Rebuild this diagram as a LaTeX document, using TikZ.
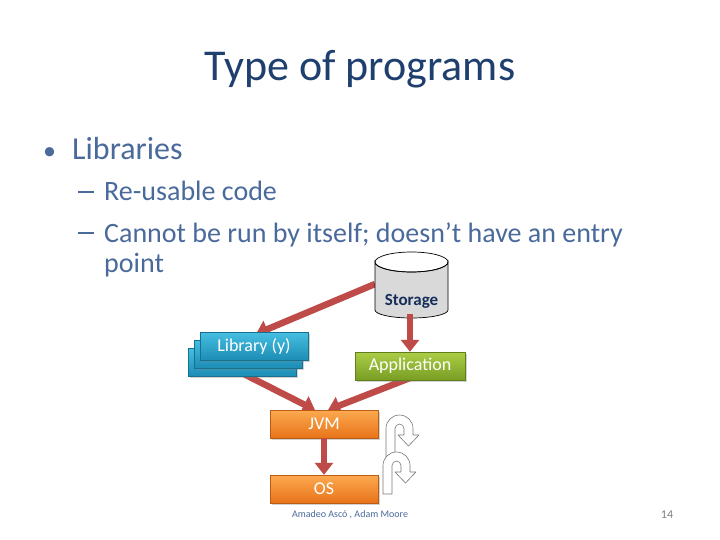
\documentclass[tikz,border=0pt]{standalone}
\usepackage{fontspec}
\setmainfont{Carlito}
\usetikzlibrary{arrows.meta,shadows}
\definecolor{titlecol}{RGB}{31,63,111}
\definecolor{bodycol}{RGB}{74,106,156}
\definecolor{arrowcol}{RGB}{190,75,72}
\definecolor{libtop}{RGB}{70,190,225}
\definecolor{libbot}{RGB}{28,140,180}
\definecolor{apptop}{RGB}{172,205,70}
\definecolor{appbot}{RGB}{120,158,35}
\definecolor{ortop}{RGB}{252,170,80}
\definecolor{orbot}{RGB}{232,115,25}
\definecolor{storefill}{RGB}{217,217,217}
\definecolor{storetext}{RGB}{23,45,90}
\definecolor{ucol}{RGB}{120,120,120}
\tikzset{
  bigarrow/.style={draw=arrowcol, line width=6.5pt, -{Triangle[width=18pt,length=12pt]}},
  boxbase/.style={minimum height=28pt, inner sep=0pt, text=white, font=\fontsize{18}{20}\selectfont,
    drop shadow={shadow xshift=1.5pt, shadow yshift=-1.5pt, opacity=0.35}},
  libbox/.style={boxbase, minimum width=108pt, top color=libtop, bottom color=libbot, draw=libbot!80!black, line width=0.4pt},
  appbox/.style={boxbase, minimum width=110pt, top color=apptop, bottom color=appbot, draw=appbot!80!black, line width=0.4pt},
  orbox/.style={boxbase, minimum width=108pt, top color=ortop, bottom color=orbot, draw=orbot!80!black, line width=0.4pt},
  uturn/.style={draw=ucol, fill=white, line width=0.6pt, line join=round},
  bodytext/.style={text=bodycol, anchor=base west, inner sep=0pt},
}
\newcommand{\subdash}{\makebox[26pt][l]{\rule[8.5pt]{16pt}{1.5pt}}}
\begin{document}
\begin{tikzpicture}[x=1pt,y=-1pt]
\useasboundingbox[fill=white] (0,0) rectangle (720,540);
% texts
\node[text=titlecol, font=\fontsize{44}{52}\selectfont, anchor=base] (title) at (360,81) {Type of programs};
\node[bodytext, font=\fontsize{32}{38}\selectfont] (b1) at (43,160) {\makebox[29pt][l]{\fontsize{26}{30}\selectfont•}Libraries};
\node[bodytext, font=\fontsize{28}{34}\selectfont] (b2) at (78,201) {\subdash Re-usable code};
\node[bodytext, font=\fontsize{28}{34}\selectfont] (b3) at (78,242) {\subdash Cannot be run by itself; doesn’t have an entry};
\node[bodytext, font=\fontsize{28}{34}\selectfont] (b4) at (104,272) {point};
% named points for arrows
\coordinate (sL) at (375,284);
\coordinate (libTip) at (256,334);
\coordinate (sB) at (410,314);
\coordinate (libOut) at (232,368);
\coordinate (jvmL) at (315,410);
\coordinate (appOut) at (410,378);
\coordinate (jvmR) at (328,410);
% arrows
\draw[bigarrow] (sL) -- (libTip);
\draw[bigarrow] (libOut) -- (jvmL);
\draw[bigarrow] (appOut) -- (jvmR);
% storage cylinder
\filldraw[fill=storefill, draw=black, line width=0.7pt]
  (375,262) -- (375,310) arc[start angle=180, end angle=0, x radius=36.5, y radius=8] -- (448,262)
  arc[start angle=0, end angle=180, x radius=36.5, y radius=10] -- cycle;
\draw[line width=0.7pt] (411.5,262) ellipse[x radius=36.5, y radius=10];
\node[text=storetext, font=\bfseries\fontsize{17}{19}\selectfont] (storage) at (411.5,301) {Storage};
% boxes
\node[libbox] (lib3) at (242,362) {};
\node[libbox] (lib2) at (248,354) {};
\node[libbox] (lib) at (254,346.5) {Library (y)};
\node[appbox] (app) at (410,366) {Application};
\node[orbox] (jvm) at (324,424) {JVM};
\node[orbox] (os) at (324,489) {OS};
\draw[bigarrow] (sB) -- (app.north);
\draw[bigarrow] (jvm.south) -- (os.north);
% u-turn arrows
\draw[uturn] (386,457) -- (386,428.5) arc[start angle=180, end angle=360, radius=13.5]
  -- (413,435) -- (419,435) -- (408.5,446) -- (398,435) -- (404,435) -- (404,428.5)
  arc[start angle=360, end angle=180, radius=4.5] -- (395,457) -- cycle;
\draw[uturn] (383,494) -- (383,465.5) arc[start angle=180, end angle=360, radius=13.5]
  -- (410,472) -- (416,472) -- (405.5,483) -- (395,472) -- (401,472) -- (401,465.5)
  arc[start angle=360, end angle=180, radius=4.5] -- (392,494) -- cycle;
% footer
\node[text=bodycol, font=\fontsize{10}{12}\selectfont] (foot) at (350,515) {Amadeo Ascó , Adam Moore};
\node[text=gray, font=\fontsize{12}{14}\selectfont] (page) at (667,515) {14};
\end{tikzpicture}
\end{document}
